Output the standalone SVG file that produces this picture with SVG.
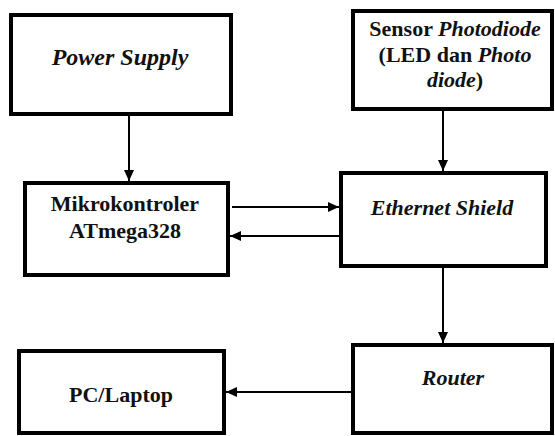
<svg xmlns="http://www.w3.org/2000/svg" width="555" height="436" viewBox="0 0 555 436">
  <style>
    .box { fill: #fff; stroke: #000; stroke-width: 4; }
    .lbl { font-family: 'Liberation Serif', 'Times New Roman', serif; font-size: 22px; font-weight: bold; fill: #111; text-anchor: middle; }
    .it { font-style: italic; }
    .big { font-size: 24px; }
    .conn { stroke: #000; stroke-width: 2; fill: none; marker-end: url(#ah); }
  </style>
  <defs>
    <marker id="ah" markerUnits="userSpaceOnUse" markerWidth="12" markerHeight="10" refX="11" refY="5" orient="auto">
      <path d="M0,0 L11,5 L0,10 Z" fill="#000"/>
    </marker>
  </defs>
  <rect width="555" height="436" fill="#fff"/>
  <g id="connectors">
    <line class="conn" x1="129" y1="116" x2="129" y2="181"/>
    <line class="conn" x1="443" y1="111" x2="443" y2="171"/>
    <line class="conn" x1="232" y1="207" x2="339" y2="207"/>
    <line class="conn" x1="339" y1="236" x2="230" y2="236"/>
    <line class="conn" x1="443" y1="268" x2="443" y2="343"/>
    <line class="conn" x1="351" y1="392" x2="226" y2="392"/>
  </g>
  <g id="power-supply">
    <rect class="box" x="11" y="15" width="220" height="99"/>
    <text class="lbl it big" x="120" y="65">Power Supply</text>
  </g>
  <g id="sensor">
    <rect class="box" x="353" y="11" width="199" height="98"/>
    <text class="lbl" x="455" y="36">Sensor <tspan class="it">Photodiode</tspan></text>
    <text class="lbl" x="455" y="62">(LED dan <tspan class="it">Photo</tspan></text>
    <text class="lbl" x="455" y="87"><tspan class="it">diode</tspan>)</text>
  </g>
  <g id="mikrokontroler">
    <rect class="box" x="25" y="183" width="203" height="92"/>
    <text class="lbl" x="125" y="211">Mikrokontroler</text>
    <text class="lbl" x="125" y="238">ATmega328</text>
  </g>
  <g id="ethernet-shield">
    <rect class="box" x="341" y="173" width="205" height="93"/>
    <text class="lbl it" x="442" y="215">Ethernet Shield</text>
  </g>
  <g id="router">
    <rect class="box" x="353" y="345" width="199" height="88"/>
    <text class="lbl it" x="453" y="385">Router</text>
  </g>
  <g id="pc-laptop">
    <rect class="box" x="19" y="351" width="205" height="82"/>
    <text class="lbl" x="121" y="402">PC/Laptop</text>
  </g>
</svg>
